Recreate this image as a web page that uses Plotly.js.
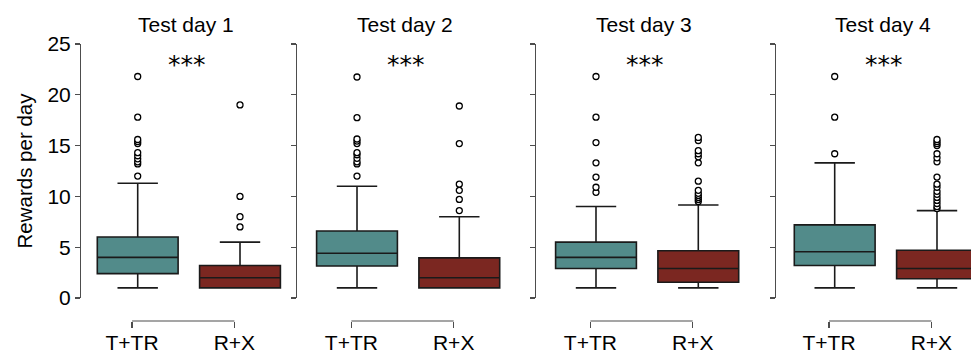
<!DOCTYPE html>
<html>
<head>
<meta charset="utf-8">
<script src="https://cdn.plot.ly/plotly-3.0.1.min.js"></script>
<style>
html,body{margin:0;padding:0;background:#fff;}
#chart{width:971px;height:354px;}
</style>
</head>
<body>
<div id="chart"></div>
<script>
// ---------- data ----------
const categories = ['T+TR', 'R+X'];
const days = ['Test day 1', 'Test day 2', 'Test day 3', 'Test day 4'];
const significance = ['***', '***', '***', '***'];

// T+TR box statistics per day
const lo_TTR  = [1.0, 1.0, 1.0, 1.0];
const q1_TTR  = [2.4, 3.15, 2.9, 3.2];
const med_TTR = [4.0, 4.4, 4.0, 4.55];
const q3_TTR  = [6.0, 6.6, 5.5, 7.2];
const hi_TTR  = [11.3, 11.0, 9.0, 13.3];
const out_TTR = [
  [12.0, 13.2, 13.4, 13.7, 14.0, 14.3, 15.2, 15.4, 15.6, 17.8, 21.8],
  [12.0, 13.2, 13.4, 13.75, 14.1, 14.3, 15.2, 15.45, 15.65, 17.75, 21.75],
  [10.4, 10.9, 11.9, 13.3, 15.3, 17.8, 21.8],
  [14.2, 17.8, 21.8]
];

// R+X box statistics per day
const lo_RX  = [1.0, 1.0, 1.0, 1.0];
const q1_RX  = [1.0, 1.0, 1.55, 1.9];
const med_RX = [2.0, 2.0, 2.9, 2.9];
const q3_RX  = [3.2, 3.95, 4.65, 4.7];
const hi_RX  = [5.5, 8.0, 9.15, 8.6];
const out_RX = [
  [7.0, 8.0, 10.0, 19.0],
  [8.6, 9.7, 10.6, 11.2, 15.2, 18.9],
  [9.5, 9.7, 9.9, 10.1, 10.3, 10.6, 11.5, 13.3, 13.9, 14.2, 14.5, 15.5, 15.8],
  [8.8, 9.0, 9.3, 9.6, 9.9, 10.2, 10.5, 10.9, 11.2, 11.9, 13.4, 13.8, 14.2, 15.0, 15.2, 15.4, 15.6]
];

// ---------- layout geometry (pixels) ----------
const W = 971, H = 354;
const firstBoxPx = [137.7, 357, 596, 834.7];
const spacingPx = 102.3;
const yAxisPx = [80, 296, 535, 775];
const tickShift = 0.055;
const xlo = -0.55, xhi = 1.5;

const fillColors = ['#528b8a', '#7b2721'];
const stats = [
  {lo: lo_TTR, q1: q1_TTR, med: med_TTR, q3: q3_TTR, hi: hi_TTR, out: out_TTR},
  {lo: lo_RX,  q1: q1_RX,  med: med_RX,  q3: q3_RX,  hi: hi_RX,  out: out_RX}
];

const FONT = '"Liberation Sans", Arial, Helvetica, sans-serif';
const FS = 21;
const spineColor = '#4d4d4d';

const traces = [];
const layout = {
  width: W, height: H,
  margin: {l: 0, r: 0, t: 0, b: 0},
  paper_bgcolor: '#ffffff',
  plot_bgcolor: 'rgba(0,0,0,0)',
  font: {family: FONT, size: FS, color: '#000000'},
  showlegend: false,
  annotations: [],
  shapes: []
};

for (let k = 0; k < days.length; k++) {
  const n = k + 1;
  const xa = 'x' + n, ya = 'y' + n;
  const xKey = k === 0 ? 'xaxis' : 'xaxis' + n;
  const yKey = k === 0 ? 'yaxis' : 'yaxis' + n;
  const leftPx = firstBoxPx[k] + xlo * spacingPx;
  const rightPx = Math.min(W, firstBoxPx[k] + xhi * spacingPx);

  layout[xKey] = {
    domain: [leftPx / W, rightPx / W],
    range: [xlo, (rightPx - firstBoxPx[k]) / spacingPx],
    anchor: 'free',
    position: 1 - 321 / H,
    tickmode: 'array',
    tickvals: [0 - tickShift, 1 - tickShift],
    ticktext: categories,
    ticks: 'outside', ticklen: 6, tickwidth: 1.2, tickcolor: spineColor,
    ticklabelstandoff: -3,
    showline: false, showgrid: false, zeroline: false,
    tickfont: {family: FONT, size: FS, color: '#000'},
    fixedrange: true
  };
  layout[yKey] = {
    domain: [1 - 298 / H, 1 - 44 / H],
    range: [0, 25],
    anchor: 'free',
    position: yAxisPx[k] / W,
    tickmode: 'array',
    tickvals: [0, 5, 10, 15, 20, 25],
    ticks: 'outside', ticklen: 5, tickwidth: 1.2, tickcolor: spineColor,
    showline: true, linecolor: spineColor, linewidth: 1.2,
    showgrid: false, zeroline: false,
    showticklabels: k === 0,
    tickfont: {family: FONT, size: FS, color: '#000'},
    fixedrange: true
  };
  if (k === 0) {
    layout[yKey].title = {text: 'Rewards per day', font: {family: FONT, size: 20.5, color: '#000'}, standoff: 8};
  }

  // trimmed x spine between the two category ticks
  layout.shapes.push({
    type: 'line', xref: xa, yref: 'paper',
    x0: 0 - tickShift, x1: 1 - tickShift,
    y0: 1 - 321 / H, y1: 1 - 321 / H,
    line: {color: spineColor, width: 1.2}
  });

  for (let g = 0; g < categories.length; g++) {
    const s = stats[g];
    traces.push({
      type: 'box', orientation: 'v',
      xaxis: xa, yaxis: ya,
      name: categories[g],
      x: [g],
      lowerfence: [s.lo[k]], q1: [s.q1[k]], median: [s.med[k]], q3: [s.q3[k]], upperfence: [s.hi[k]],
      y: [s.out[k]],
      boxpoints: 'outliers', jitter: 0, pointpos: 0,
      width: 0.79, whiskerwidth: 0.5,
      fillcolor: fillColors[g],
      line: {color: '#1a1a1a', width: 1.6},
      marker: {symbol: 'circle', size: 6, color: '#ffffff', line: {color: '#000000', width: 1.3}},
      hoverinfo: 'skip', showlegend: false
    });
  }

  layout.annotations.push({
    xref: xa, yref: 'paper', x: 0.47, y: 1 - 24 / H,
    xanchor: 'center', yanchor: 'middle', showarrow: false,
    text: days[k], font: {family: FONT, size: FS, color: '#000'}
  });
  layout.annotations.push({
    xref: xa, yref: 'paper', x: 0.48, y: 1 - 64 / H,
    xanchor: 'center', yanchor: 'middle', showarrow: false,
    text: significance[k], font: {family: '"DejaVu Sans", sans-serif', size: 25, color: '#000'}
  });
}

Plotly.newPlot('chart', traces, layout, {staticPlot: true, displayModeBar: false});
</script>
</body>
</html>
